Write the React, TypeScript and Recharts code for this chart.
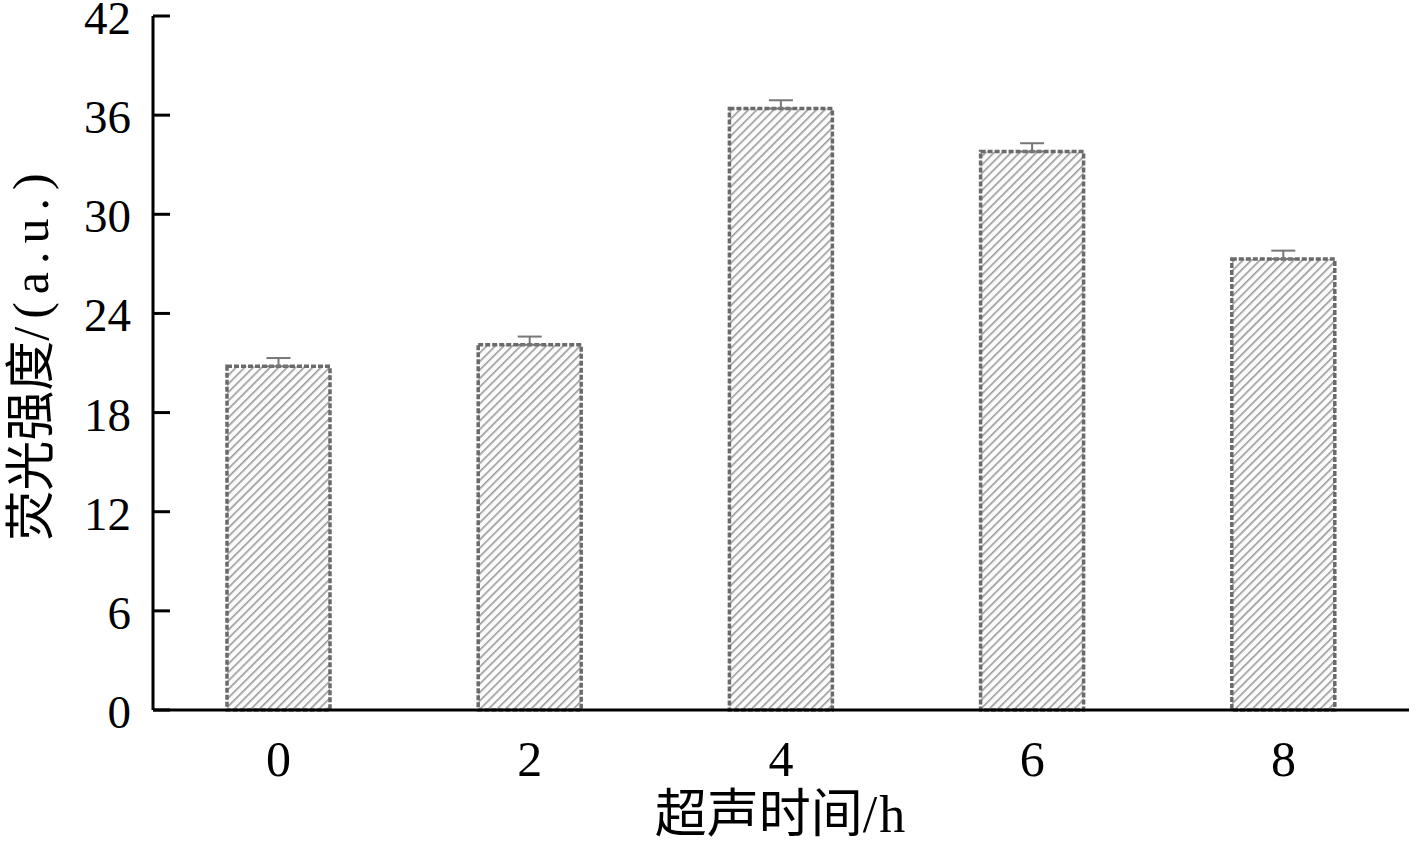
import { Bar, BarChart, ErrorBar, XAxis, YAxis } from "recharts";

const hours = ["0", "2", "4", "6", "8"];
const intensity = [20.8, 22.1, 36.4, 33.8, 27.3];
const errors = [0.5, 0.5, 0.5, 0.5, 0.5];
const yTicks = [0, 6, 12, 18, 24, 30, 36, 42];

const SERIF = "'Liberation Serif', 'DejaVu Serif', serif";
const MIXED = "'Liberation Serif', 'Noto Sans CJK SC', serif";

// lower half of the error bar hides inside the bar in the original
const rows = hours.map((h, i) => ({ hour: h, value: intensity[i], err: [0, errors[i]] }));

// y ticks point into the plot, labels sit outside on the left
function YTick(props: any) {
  const { x, y, payload } = props;
  const axisX = x + 22;
  return (
    <g>
      <line x1={axisX} y1={y} x2={axisX + 17} y2={y} stroke="#000" strokeWidth={3} />
      <text x={x} y={y} dy={18} textAnchor="end" fontFamily={SERIF} fontSize={47} fill="#000">
        {payload.value}
      </text>
    </g>
  );
}

function XTick(props: any) {
  const { x, y, payload } = props;
  return (
    <text x={x} y={y} dy={58} textAnchor="middle" fontFamily={SERIF} fontSize={50} fill="#000">
      {payload.value}
    </text>
  );
}

function YLabel(props: any) {
  const vb = props.viewBox;
  const cy = vb.y + vb.height / 2 - 10;
  const cx = 48;
  return (
    <text
      x={cx}
      y={cy}
      transform={`rotate(-90 ${cx} ${cy})`}
      textAnchor="middle"
      fontFamily={MIXED}
      fontSize={50}
      fill="#000"
    >
      荧光强度<tspan letterSpacing={8}>/(a.u.)</tspan>
    </text>
  );
}

function XLabel(props: any) {
  const vb = props.viewBox;
  const cx = vb.x + vb.width / 2;
  return (
    <text x={cx} y={832} textAnchor="middle" fontFamily={MIXED} fontSize={52} fill="#000">
      超声时间<tspan letterSpacing={2}>/h</tspan>
    </text>
  );
}

export default function App() {
  return (
    <div style={{ position: "absolute", left: 0, top: 0, background: "#fff" }}>
      <BarChart
        width={1418}
        height={846}
        data={rows}
        margin={{ top: 16, right: 9, bottom: 0, left: 0 }}
        barSize={103}
      >
        <defs>
          <pattern id="hatch" width="6" height="6" patternUnits="userSpaceOnUse" patternTransform="rotate(45)">
            <rect width="6" height="6" fill="#fbfbfb" />
            <line x1="0" y1="0" x2="0" y2="6" stroke="#9a9a9a" strokeWidth="3.2" />
          </pattern>
        </defs>
        <XAxis
          dataKey="hour"
          height={136}
          axisLine={{ stroke: "#000", strokeWidth: 3 }}
          tickLine={false}
          tick={XTick}
          label={XLabel}
        />
        <YAxis
          width={153}
          domain={[0, 42]}
          ticks={yTicks}
          interval={0}
          axisLine={{ stroke: "#000", strokeWidth: 3 }}
          tickLine={false}
          tickSize={0}
          tickMargin={22}
          tick={YTick}
          label={YLabel}
        />
        <Bar
          dataKey="value"
          fill="url(#hatch)"
          stroke="#6a6a6a"
          strokeWidth={3.5}
          strokeDasharray="5 2"
          isAnimationActive={false}
        >
          <ErrorBar dataKey="err" width={12} stroke="#777" strokeWidth={2} />
        </Bar>
      </BarChart>
    </div>
  );
}
